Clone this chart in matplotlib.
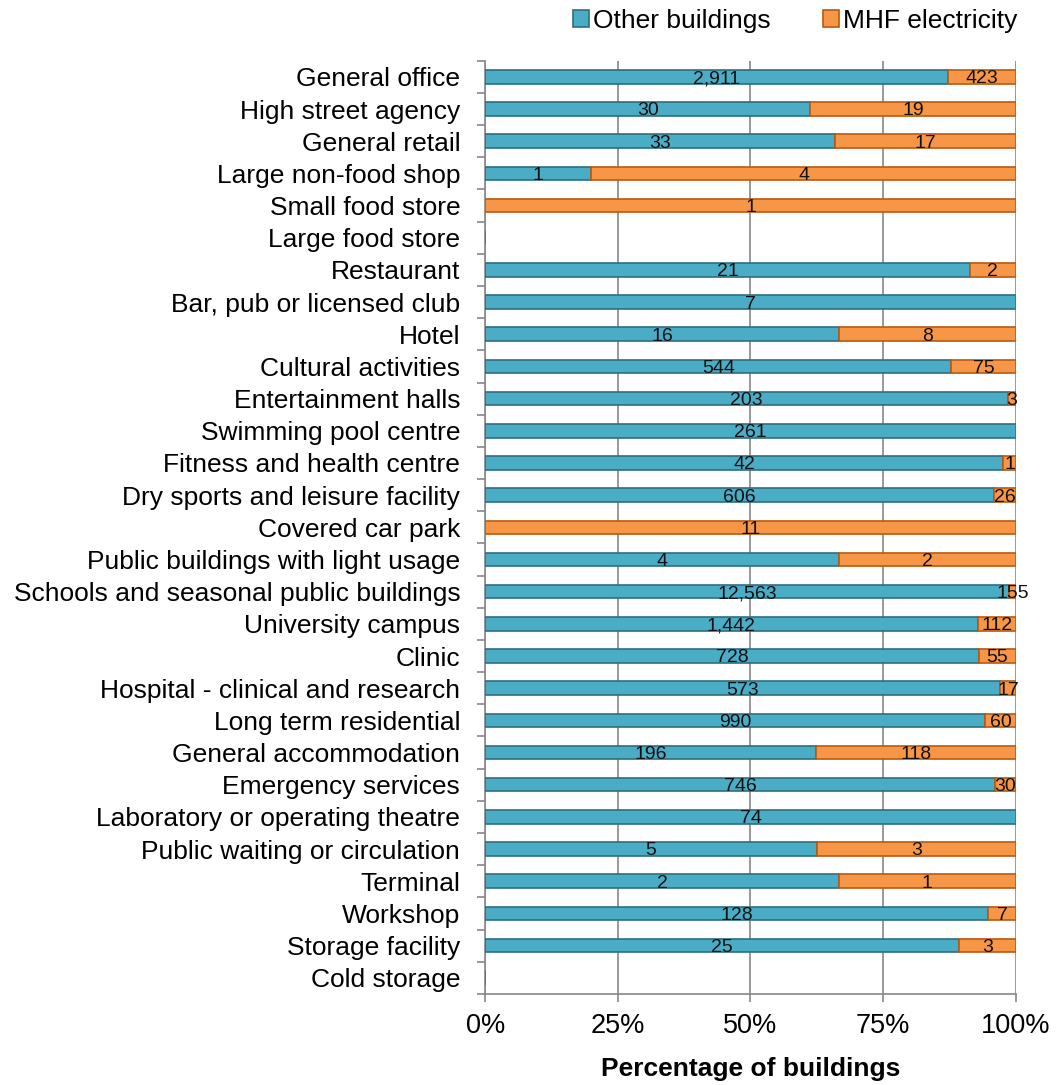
import matplotlib.pyplot as plt
import numpy as np

plt.rcParams['font.family'] = ['Liberation Sans', 'DejaVu Sans']

# building types, top to bottom
categories = ['General office', 'High street agency', 'General retail', 'Large non-food shop',
              'Small food store', 'Large food store', 'Restaurant', 'Bar, pub or licensed club',
              'Hotel', 'Cultural activities', 'Entertainment halls', 'Swimming pool centre',
              'Fitness and health centre', 'Dry sports and leisure facility', 'Covered car park',
              'Public buildings with light usage', 'Schools and seasonal public buildings',
              'University campus', 'Clinic', 'Hospital - clinical and research',
              'Long term residential', 'General accommodation', 'Emergency services',
              'Laboratory or operating theatre', 'Public waiting or circulation', 'Terminal',
              'Workshop', 'Storage facility', 'Cold storage']

# number of buildings
other = [2911, 30, 33, 1, 0, 0, 21, 7, 16, 544, 203, 261, 42, 606, 0, 4, 12563, 1442, 728,
         573, 990, 196, 746, 74, 5, 2, 128, 25, 0]
mhf = [423, 19, 17, 4, 1, 0, 2, 0, 8, 75, 3, 0, 1, 26, 11, 2, 155, 112, 55, 17, 60, 118, 30,
       0, 3, 1, 7, 3, 0]

other = np.array(other, dtype=float)
mhf = np.array(mhf, dtype=float)
total = other + mhf
safe = np.where(total > 0, total, 1)
p_other = other / safe * 100
p_mhf = mhf / safe * 100

blue = '#4BACC6'
orange = '#F79646'

fig = plt.figure(figsize=(10.57, 10.85), dpi=100)
ax = fig.add_axes([0.459, 0.084, 0.502, 0.860])

y = np.arange(len(categories))
h = 0.42
b1 = ax.barh(y, p_other, height=h, color=blue, edgecolor='#2E6E82', linewidth=1.2,
             label='Other buildings', zorder=3)
b2 = ax.barh(y, p_mhf, left=p_other, height=h, color=orange, edgecolor='#B85A10',
             linewidth=1.2, label='MHF electricity', zorder=3)

# counts written in the middle of each segment
for i in range(len(categories)):
    if other[i] > 0:
        ax.text(p_other[i] / 2, y[i] + 0.06, f'{int(other[i]):,}', ha='center', va='center',
                fontsize=14, color='#111111', zorder=4)
    if mhf[i] > 0:
        ax.text(p_other[i] + p_mhf[i] / 2, y[i] + 0.06, f'{int(mhf[i]):,}', ha='center',
                va='center', fontsize=14, color='#111111', zorder=4)

ax.set_xlim(0, 100)
ax.set_ylim(len(categories) - 0.5, -0.5)
ax.set_yticks(y)
ax.set_yticklabels(categories, fontsize=19)
ax.set_yticks(np.arange(len(categories) + 1) - 0.5, minor=True)
ax.tick_params(axis='y', which='major', length=0, pad=18)
ax.tick_params(axis='y', which='minor', length=6, color='#888888', width=1.2)
ax.set_xticks([0, 25, 50, 75, 100])
ax.set_xticklabels(['0%', '25%', '50%', '75%', '100%'], fontsize=19.5)
ax.tick_params(axis='x', length=6, color='#888888', width=1.2, pad=8)
ax.xaxis.grid(True, color='#888888', linewidth=1.2, zorder=0)

for s in ['top', 'right']:
    ax.spines[s].set_visible(False)
for s in ['left', 'bottom']:
    ax.spines[s].set_color('#888888')
    ax.spines[s].set_linewidth(1.2)

ax.set_xlabel('Percentage of buildings', fontsize=19, fontweight='bold', labelpad=13)

fig.legend(handles=[b1, b2], loc='upper right', bbox_to_anchor=(0.985, 1.014), ncol=2,
           frameon=False, fontsize=19, handlelength=0.6, handleheight=0.6,
           handletextpad=0.15, columnspacing=2.0)

fig.savefig('out.png', dpi=100)
